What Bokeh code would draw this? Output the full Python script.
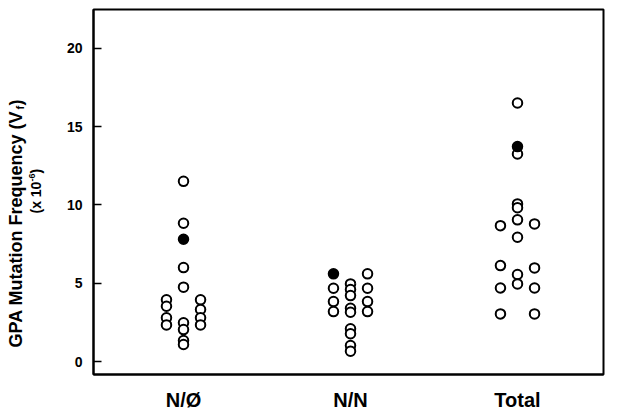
import math
from bokeh.plotting import figure
from bokeh.models import ColumnDataSource, Range1d, FixedTicker
from bokeh.layouts import row
from bokeh.core.properties import value
from bokeh.embed import file_html
from bokeh.resources import INLINE

# ---- data ----
categories = ["N/Ø", "N/N", "Total"]

nphi_left = [3.94, 3.53, 2.79, 2.34]
nphi_mid = [11.51, 8.83, 6.00, 4.75, 2.47, 2.04, 1.34, 1.09]
nphi_right = [3.94, 3.32, 2.79, 2.34]
nphi_filled = [7.81]

nn_left = [4.68, 3.83, 3.19]
nn_left_filled = [5.60]
nn_mid = [4.96, 4.60, 4.21, 3.40, 3.15, 2.09, 1.77, 1.02, 0.66]
nn_right = [5.60, 4.68, 3.83, 3.19]

total_left = [8.68, 6.13, 4.70, 3.04]
total_mid = [16.52, 13.26, 10.07, 9.83, 9.05, 7.94, 5.56, 4.96]
total_mid_filled = [13.73]
total_right = [8.79, 5.98, 4.70, 3.04]

y_ticks = [0, 5, 10, 15, 20]

# ---- build sources ----
LANE = 0.102
open_x, open_y, fill_x, fill_y = [], [], [], []

def add(cat_idx, lane, vals, filled=False):
    for v in vals:
        if filled:
            fill_x.append(cat_idx + lane * LANE); fill_y.append(v)
        else:
            open_x.append(cat_idx + lane * LANE); open_y.append(v)

add(1, -1, nphi_left); add(1, 0, nphi_mid); add(1, 1, nphi_right); add(1, 0, nphi_filled, True)
add(2, -1, nn_left); add(2, -1, nn_left_filled, True); add(2, 0, nn_mid); add(2, 1, nn_right)
add(3, -1, total_left); add(3, 0, total_mid); add(3, 0, total_mid_filled, True); add(3, 1, total_right)

open_src = ColumnDataSource(dict(x=open_x, y=open_y))
fill_src = ColumnDataSource(dict(x=fill_x, y=fill_y))

FONT = "Liberation Sans"
H = 419
LW = 50           # width of the title strip
PW = 563          # width of the chart figure
TOP, BOTTOM = 9, 374   # frame top / bottom in page pixels

p = figure(width=PW, height=H, output_backend="svg", toolbar_location=None,
           x_range=Range1d(0.461, 3.515), y_range=Range1d(-0.83, 22.49),
           min_border_left=93 - LW, min_border_right=10, min_border_top=TOP,
           min_border_bottom=H - BOTTOM)
p.background_fill_color = "white"
p.border_fill_color = "white"
p.outline_line_color = "black"
p.outline_line_width = 2
p.grid.visible = False

p.scatter("x", "y", source=open_src, size=9.5, marker="circle",
          fill_color="white", line_color="black", line_width=2)
p.scatter("x", "y", source=fill_src, size=9.5, marker="circle",
          fill_color="black", line_color="black", line_width=2)

# y axis
p.yaxis.ticker = FixedTicker(ticks=y_ticks)
p.yaxis.major_tick_in = 8
p.yaxis.major_tick_out = 0
p.yaxis.minor_tick_line_color = None
p.yaxis.axis_line_color = "black"
p.yaxis.axis_line_width = 2
p.yaxis.major_tick_line_width = 1.5
p.yaxis.major_label_text_font = FONT
p.yaxis.major_label_text_font_style = "bold"
p.yaxis.major_label_text_font_size = "14px"
p.yaxis.major_label_text_color = "black"
p.yaxis.major_label_standoff = 11

# x axis
p.xaxis.ticker = FixedTicker(ticks=[1, 2, 3])
p.xaxis.major_label_overrides = {1: categories[0], 2: categories[1], 3: categories[2]}
p.xaxis.major_tick_line_color = None
p.xaxis.minor_tick_line_color = None
p.xaxis.axis_line_color = "black"
p.xaxis.axis_line_width = 2
p.xaxis.major_label_text_font = FONT
p.xaxis.major_label_text_font_style = "bold"
p.xaxis.major_label_text_font_size = "20px"
p.xaxis.major_label_text_color = "black"
p.xaxis.major_label_standoff = 8

# ---- y-axis title strip (rotated text; y = page pixels measured from bottom) ----
# The row aligns this strip's frame with the chart frame, so its range spans the same rows.
t = figure(width=LW, height=H, output_backend="svg", toolbar_location=None,
           x_range=Range1d(0, LW), y_range=Range1d(H - BOTTOM, H - TOP),
           x_axis_type=None, y_axis_type=None, min_border=0,
           min_border_top=TOP, min_border_bottom=H - BOTTOM)
t.outline_line_color = None
t.grid.visible = False

rot = math.pi / 2
kw = dict(angle=rot, text_font=value(FONT), text_font_style="bold", text_color="black",
          text_baseline="middle", text_align="left")
# line 1: GPA Mutation Frequency (V_f)
t.text(x=[15], y=[H - 347], text=["GPA Mutation Frequency (V"], text_font_size="18px", **kw)
t.text(x=[19], y=[H - 109], text=["f"], text_font_size="11px", **kw)
t.text(x=[15], y=[H - 105], text=[")"], text_font_size="18px", **kw)
# line 2: (x 10^-6)
t.text(x=[35], y=[H - 213], text=["(x 10"], text_font_size="14px", **kw)
t.text(x=[31], y=[H - 181], text=["-6"], text_font_size="9px", **kw)
t.text(x=[35], y=[H - 173], text=[")"], text_font_size="14px", **kw)

layout = row(t, p, spacing=0)
open("out.html", "w").write(file_html(layout, INLINE))
